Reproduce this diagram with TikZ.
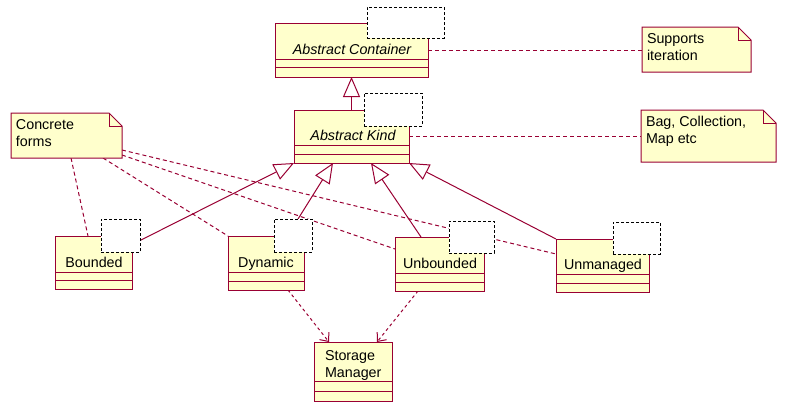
\documentclass[tikz,border=0pt]{standalone}
\usepackage{fontspec}
\setmainfont{Liberation Sans}
\usetikzlibrary{arrows.meta}
\definecolor{umlred}{HTML}{990033}
\definecolor{umlfill}{HTML}{FFFFCC}
\pgfdeclarelayer{background}
\pgfsetlayers{background,main}
\tikzset{
  cls/.style={draw=umlred, fill=umlfill, line width=1pt, anchor=north west, inner sep=0pt, outer sep=0pt},
  notebox/.style={inner sep=0pt, outer sep=0pt, anchor=north west},
  noteline/.style={draw=umlred, fill=umlfill, line width=1pt, line join=miter},
  tmpl/.style={draw=black, fill=white, dash pattern=on 3pt off 2pt, line width=1pt, anchor=north west, inner sep=0pt, outer sep=0pt},
  txt/.style={font=\fontsize{14.3}{16.5}\selectfont, inner sep=0pt, outer sep=0pt},
  comp/.style={draw=umlred, line width=1pt},
  gen/.style={draw=umlred, line width=1pt, -{Triangle[fill=white, length=20pt, width=17pt]}},
  notelink/.style={draw=umlred, line width=1pt, dash pattern=on 4pt off 3pt},
  dep/.style={draw=umlred, line width=1pt, dash pattern=on 3pt off 3pt, -{Straight Barb[length=7pt, width=12pt]}},
}
\newcommand\umlcomps[3]{%
  \draw[comp] ([yshift=-#2pt]#1.north west) -- ([yshift=-#2pt]#1.north east);
  \draw[comp] ([yshift=-#3pt]#1.north west) -- ([yshift=-#3pt]#1.north east);}
\newcommand\umlnote[1]{%
  \draw[noteline] (#1.north west) -- ([xshift=-13pt]#1.north east) -- ([yshift=-13pt]#1.north east) -- (#1.south east) -- (#1.south west) -- cycle;
  \draw[umlred, line width=1pt] ([xshift=-13pt]#1.north east) -- ([xshift=-13pt, yshift=-13pt]#1.north east) -- ([yshift=-13pt]#1.north east);}
\begin{document}
\begin{tikzpicture}[x=1pt, y=-1pt]
\useasboundingbox (0,0) rectangle (785,410);

% classes
\node[cls, minimum width=153pt, minimum height=54pt] (ac) at (275,23) {};
\node[cls, minimum width=115pt, minimum height=53pt] (kind) at (294,110) {};
\node[cls, minimum width=77pt, minimum height=53pt] (bnd) at (55,236) {};
\node[cls, minimum width=76pt, minimum height=54pt] (dyn) at (228,236) {};
\node[cls, minimum width=89pt, minimum height=54pt] (unb) at (395,237) {};
\node[cls, minimum width=93pt, minimum height=53pt] (unm) at (556,239) {};
\node[cls, minimum width=78pt, minimum height=59pt] (sm) at (314,342) {};
\umlcomps{ac}{36}{44}
\umlcomps{kind}{35}{44}
\umlcomps{bnd}{36}{44}
\umlcomps{dyn}{36}{45}
\umlcomps{unb}{36}{45}
\umlcomps{unm}{35}{44}
\umlcomps{sm}{39}{49}

% notes
\node[notebox, minimum width=109pt, minimum height=45pt] (n1) at (642,27) {};
\node[notebox, minimum width=135pt, minimum height=52pt] (n2) at (641,110) {};
\node[notebox, minimum width=111pt, minimum height=45pt] (cf) at (11,113) {};
\umlnote{n1}
\umlnote{n2}
\umlnote{cf}

% template boxes
\node[tmpl, minimum width=77pt, minimum height=31pt] (acT) at (367,7) {};
\node[tmpl, minimum width=58pt, minimum height=33pt] (kindT) at (364,93) {};
\node[tmpl, minimum width=39pt, minimum height=33pt] (bndT) at (101,219) {};
\node[tmpl, minimum width=38pt, minimum height=33pt] (dynT) at (274,219) {};
\node[tmpl, minimum width=45pt, minimum height=32pt] (unbT) at (449,221) {};
\node[tmpl, minimum width=47pt, minimum height=32pt] (unmT) at (613,222) {};

% texts
\node[txt, anchor=base, font=\fontsize{14.3}{16.5}\selectfont\itshape] (acname) at (352,54) {Abstract Container};
\node[txt, anchor=base, font=\fontsize{14.3}{16.5}\selectfont\itshape] (kindname) at (353,140) {Abstract Kind};
\node[txt, anchor=base] (bndname) at (94,267) {Bounded};
\node[txt, anchor=base] (dynname) at (266,267) {Dynamic};
\node[txt, anchor=base] (unbname) at (440,268) {Unbounded};
\node[txt, anchor=base] (unmname) at (603,269) {Unmanaged};
\node[txt, anchor=base west, align=left] (smname) at (325,377) {Storage\\Manager};
\node[txt, anchor=base west, align=left] (cftext) at (16,146) {Concrete\\forms};
\node[txt, anchor=base west, align=left] (n1text) at (647,60) {Supports\\iteration};
\node[txt, anchor=base west, align=left] (n2text) at (646,143) {Bag, Collection,\\Map etc};

% connectors
\begin{pgfonlayer}{background}
\draw[notelink] (ac.east) -- (ac.east -| n1.west);
\draw[notelink] (kind.east) -- (kind.east -| n2.west);
\draw[notelink] ([xshift=60pt]cf.south west) -- ([xshift=33pt]bnd.north west);
\draw[notelink] ([xshift=92pt]cf.south west) -- (dyn.north west);
\draw[notelink] ([yshift=3pt]cf.south east) -- ([yshift=-12pt]unb.north west);
\draw[notelink] ([yshift=8pt]cf.south east) -- ([yshift=-15pt]unm.north west);
\draw[gen] (kind.north) -- (ac.south);
\draw[gen] ([yshift=-5pt]bndT.east) -- (kind.south west);
\draw[gen] ([xshift=5pt]dynT.north) -- ([xshift=39pt]kind.south west);
\draw[gen] ([xshift=26pt]unb.north west) -- ([xshift=77pt]kind.south west);
\draw[gen] (unm.north west) -- (kind.south east);
\draw[dep] ([xshift=60pt]dyn.south west) -- ([xshift=15pt]sm.north west);
\draw[dep] ([xshift=23pt]unb.south west) -- ([xshift=63pt]sm.north west);
\end{pgfonlayer}
\end{tikzpicture}
\end{document}
